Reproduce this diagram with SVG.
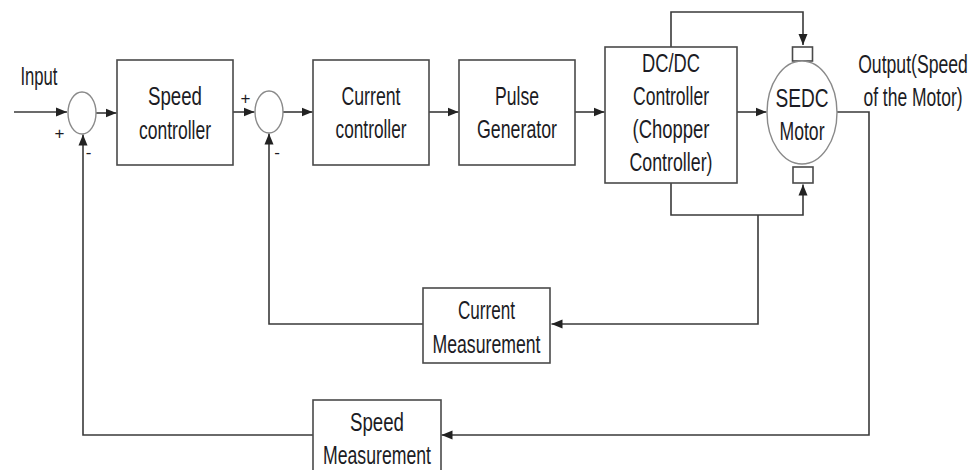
<svg xmlns="http://www.w3.org/2000/svg" width="976" height="470" viewBox="0 0 976 470">
<defs>
<marker id="arr" markerUnits="userSpaceOnUse" markerWidth="12" markerHeight="10" refX="11" refY="5" orient="auto">
<path d="M0,0.5 L11,5 L0,9.5 z" fill="#222"/>
</marker>
<style>
.box{fill:#fff;stroke:#4a4a4a;stroke-width:1.6}
.sum{fill:#fff;stroke:#8a8a8a;stroke-width:1.4}
.wire{fill:none;stroke:#3a3a3a;stroke-width:1.6}
.t{font-family:"Liberation Sans",Arial,sans-serif;font-size:25px;fill:#1c1c24;text-anchor:middle}
.s{font-family:"Liberation Sans",Arial,sans-serif;font-size:17px;fill:#1c1c24;text-anchor:middle}
</style>
</defs>
<rect width="976" height="470" fill="#fff"/>

<g id="connectors">
<path class="wire" d="M14 112 H67" marker-end="url(#arr)"/>
<path class="wire" d="M96 113 H116.5" marker-end="url(#arr)"/>
<path class="wire" d="M233 112 H254.5" marker-end="url(#arr)"/>
<path class="wire" d="M283 112 H312.5" marker-end="url(#arr)"/>
<path class="wire" d="M429 112 H458.5" marker-end="url(#arr)"/>
<path class="wire" d="M575 112 H604.5" marker-end="url(#arr)"/>
<path class="wire" d="M737 112 H766.5" marker-end="url(#arr)"/>
<path class="wire" d="M671 47 V12 H803 V45" marker-end="url(#arr)"/>
<path class="wire" d="M671 183 V215 H803 V184.5" marker-end="url(#arr)"/>
<path class="wire" d="M758 215 V324 H551.5" marker-end="url(#arr)"/>
<path class="wire" d="M423 324 H269 V133.5" marker-end="url(#arr)"/>
<path class="wire" d="M837 112 H869 V435 H441.5" marker-end="url(#arr)"/>
<path class="wire" d="M313 435 H83 V134.5" marker-end="url(#arr)"/>
</g>

<g id="input-label">
<text class="t" x="39" y="85" textLength="37" lengthAdjust="spacingAndGlyphs">Input</text>
</g>

<g id="sum1">
<ellipse class="sum" cx="82" cy="113" rx="14" ry="21"/>
<text class="s" x="59.5" y="139">+</text>
<text class="s" x="88.5" y="158">-</text>
</g>

<g id="speed-controller">
<rect class="box" x="117" y="60" width="116" height="105"/>
<text class="t" x="175" y="105" textLength="54" lengthAdjust="spacingAndGlyphs">Speed</text>
<text class="t" x="175" y="139" textLength="72" lengthAdjust="spacingAndGlyphs">controller</text>
</g>

<g id="sum2">
<ellipse class="sum" cx="269" cy="112" rx="14" ry="21"/>
<text class="s" x="245.5" y="104">+</text>
<text class="s" x="277" y="158">-</text>
</g>

<g id="current-controller">
<rect class="box" x="313" y="60" width="116" height="105"/>
<text class="t" x="371" y="105" textLength="59" lengthAdjust="spacingAndGlyphs">Current</text>
<text class="t" x="371" y="138" textLength="71" lengthAdjust="spacingAndGlyphs">controller</text>
</g>

<g id="pulse-generator">
<rect class="box" x="459" y="60" width="116" height="105"/>
<text class="t" x="517" y="105" textLength="44" lengthAdjust="spacingAndGlyphs">Pulse</text>
<text class="t" x="517" y="138" textLength="80" lengthAdjust="spacingAndGlyphs">Generator</text>
</g>

<g id="dcdc-controller">
<rect class="box" x="605" y="47" width="132" height="136"/>
<text class="t" x="671" y="72" textLength="58" lengthAdjust="spacingAndGlyphs">DC/DC</text>
<text class="t" x="671" y="105" textLength="76" lengthAdjust="spacingAndGlyphs">Controller</text>
<text class="t" x="671" y="138" textLength="77" lengthAdjust="spacingAndGlyphs">(Chopper</text>
<text class="t" x="671" y="171" textLength="83" lengthAdjust="spacingAndGlyphs">Controller)</text>
</g>

<g id="sedc-motor">
<rect class="box" x="792.5" y="47" width="20" height="14"/>
<rect class="box" x="793" y="167" width="20" height="16"/>
<ellipse class="sum" cx="802" cy="112.5" rx="35" ry="51.5"/>
<text class="t" x="802" y="107" textLength="53" lengthAdjust="spacingAndGlyphs">SEDC</text>
<text class="t" x="802" y="140" textLength="45" lengthAdjust="spacingAndGlyphs">Motor</text>
</g>

<g id="output-label">
<text class="t" transform="translate(913,73) scale(0.705,1)" x="0" y="0">Output(Speed</text>
<text class="t" transform="translate(913,106) scale(0.70,1)" x="0" y="0">of the Motor)</text>
</g>

<g id="current-measurement">
<rect class="box" x="423" y="288" width="127" height="75"/>
<text class="t" x="486.5" y="319" textLength="57" lengthAdjust="spacingAndGlyphs">Current</text>
<text class="t" x="486.5" y="353" textLength="108" lengthAdjust="spacingAndGlyphs">Measurement</text>
</g>

<g id="speed-measurement">
<rect class="box" x="313" y="400" width="128" height="74"/>
<text class="t" x="377" y="431" textLength="54" lengthAdjust="spacingAndGlyphs">Speed</text>
<text class="t" x="377" y="464" textLength="108" lengthAdjust="spacingAndGlyphs">Measurement</text>
</g>
</svg>
